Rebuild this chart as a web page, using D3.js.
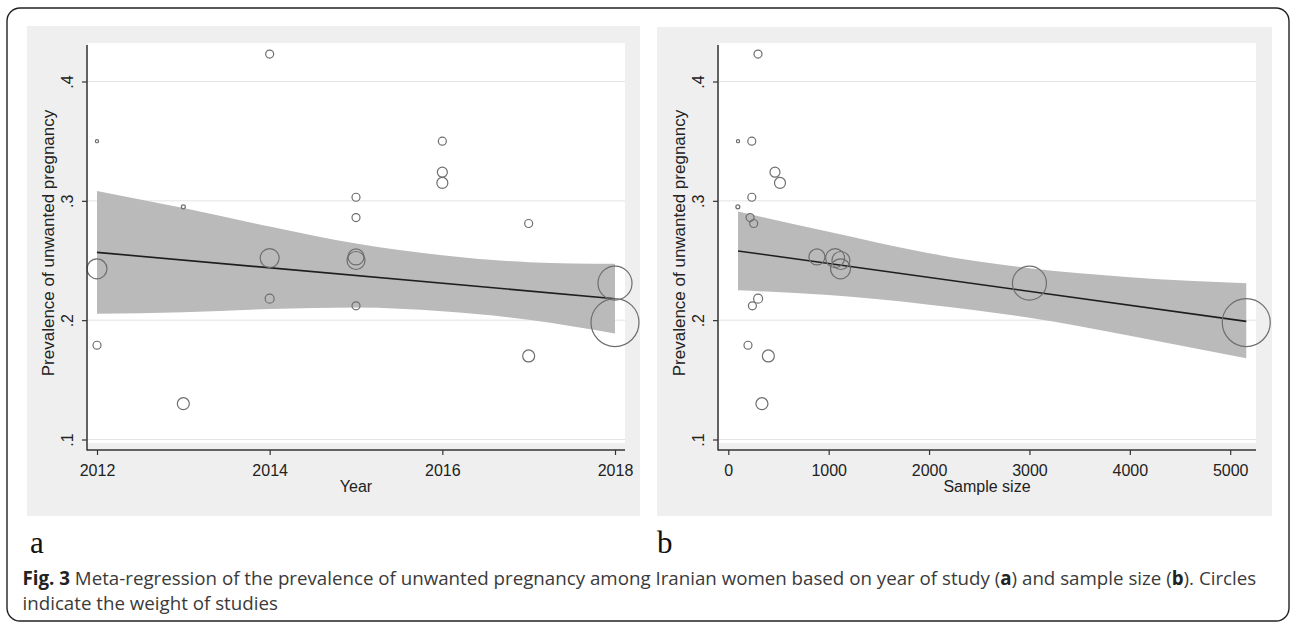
<!DOCTYPE html>
<html>
<head>
<meta charset="utf-8">
<script src="https://cdn.jsdelivr.net/npm/d3@7"></script>
<style>
  html, body { margin: 0; padding: 0; background: #fff; }
  svg { display: block; }
</style>
</head>
<body>
<svg id="fig" width="1290" height="624"></svg>
<script>
// ---- Study-level data (one entry per study) ----
const studyYear  = [2012, 2012, 2012, 2013, 2013, 2014, 2014, 2014, 2015, 2015,
                    2015, 2015, 2015, 2016, 2016, 2016, 2017, 2017, 2018, 2018];
const sampleSize = [97, 1118, 196, 95, 335, 296, 1064, 297, 234, 217,
                    883, 1122, 240, 234, 465, 515, 253, 399, 3000, 5160];
const prevalence = [0.350, 0.243, 0.179, 0.295, 0.130, 0.423, 0.252, 0.218, 0.303, 0.286,
                    0.253, 0.250, 0.212, 0.350, 0.324, 0.315, 0.281, 0.170, 0.231, 0.198];
const weightPct  = [0.15, 6.82, 1.09, 0.27, 2.46, 1.09, 6.16, 1.38, 1.09, 1.09,
                    4.37, 5.53, 1.09, 1.09, 1.71, 2.06, 1.09, 2.46, 19.71, 39.29];

// ---- Fitted meta-regression and 95% CI, panel a (year) ----
const fitYearX     = [2012, 2018];
const fitYearY     = [0.2568, 0.2180];
const bandYearX    = [2012, 2013, 2014, 2015, 2016, 2017, 2018];
const bandYearUp   = [0.3083, 0.2940, 0.2785, 0.2642, 0.2544, 0.2486, 0.2472];
const bandYearLo   = [0.2053, 0.2066, 0.2093, 0.2106, 0.2074, 0.2004, 0.1888];

// ---- Fitted meta-regression and 95% CI, panel b (sample size) ----
const fitSizeX     = [97, 5160];
const fitSizeY     = [0.258, 0.199];
const bandSizeX    = [97, 1000, 2000, 3000, 4000, 5160];
const bandSizeUp   = [0.291, 0.274, 0.256, 0.2435, 0.236, 0.231];
const bandSizeLo   = [0.225, 0.221, 0.213, 0.202, 0.187, 0.168];

// ---- Axis ticks and labels ----
const yTickValues   = [0.1, 0.2, 0.3, 0.4];
const yearTicks     = [2012, 2014, 2016, 2018];
const sizeTicks     = [0, 1000, 2000, 3000, 4000, 5000];
const yAxisTitle    = "Prevalence of unwanted pregnancy";
const yearAxisTitle = "Year";
const sizeAxisTitle = "Sample size";

const svg = d3.select("#fig");
const AXIS_FONT = "'Liberation Sans', Arial, Helvetica, sans-serif";

const studies = studyYear.map((yr, i) => ({
  year: yr, n: sampleSize[i], p: prevalence[i], w: weightPct[i]
}));

const rScale = d3.scaleSqrt().domain([0, d3.max(weightPct)]).range([0, 24]);
const yScale = d3.scaleLinear().domain([0.1, 0.4]).range([439.5, 81.5]);

// outer rounded frame of the figure
svg.append("rect")
  .attr("x", 7).attr("y", 8).attr("width", 1282).attr("height", 613)
  .attr("rx", 13).attr("ry", 13)
  .attr("fill", "none").attr("stroke", "#222").attr("stroke-width", 1.4);

function drawPanel(cfg) {
  const g = svg.append("g");
  const x = cfg.x;

  // graph background and white plot region
  g.append("rect").attr("x", cfg.bg[0]).attr("y", cfg.bg[1])
    .attr("width", cfg.bg[2] - cfg.bg[0]).attr("height", cfg.bg[3] - cfg.bg[1])
    .attr("fill", "#efefef");
  g.append("rect").attr("x", cfg.left + 1).attr("y", cfg.top)
    .attr("width", cfg.right - cfg.left - 1).attr("height", cfg.whiteBottom - cfg.top)
    .attr("fill", "#fff");

  // horizontal grid lines
  g.append("g").selectAll("line").data(yTickValues).join("line")
    .attr("x1", cfg.left + 1).attr("x2", cfg.right)
    .attr("y1", d => yScale(d)).attr("y2", d => yScale(d))
    .attr("stroke", "#e4e4e4").attr("stroke-width", 1);

  // confidence band
  const bandData = cfg.bandX.map((v, i) => ({ x: v, up: cfg.bandUp[i], lo: cfg.bandLo[i] }));
  g.append("path").datum(bandData)
    .attr("d", d3.area().curve(d3.curveMonotoneX)
      .x(d => x(d.x)).y0(d => yScale(d.lo)).y1(d => yScale(d.up)))
    .attr("fill", "#bababa");

  // fitted line
  const fitData = cfg.fitX.map((v, i) => ({ x: v, y: cfg.fitY[i] }));
  g.append("path").datum(fitData)
    .attr("d", d3.line().x(d => x(d.x)).y(d => yScale(d.y)))
    .attr("fill", "none").attr("stroke", "#1e1e1e").attr("stroke-width", 1.6);

  // study markers, sized by weight
  g.append("g").selectAll("circle").data(studies).join("circle")
    .attr("cx", d => x(cfg.xValue(d)))
    .attr("cy", d => yScale(d.p))
    .attr("r", d => Math.max(1.6, rScale(d.w)))
    .attr("fill", "none").attr("stroke", "#6e6e6e").attr("stroke-width", 1.2);

  // y axis
  const yAx = g.append("g").attr("transform", `translate(${cfg.left},0)`)
    .call(d3.axisLeft(yScale).tickValues(yTickValues).tickSize(5)
      .tickFormat(d => "." + Math.round(d * 10)));
  yAx.select(".domain").remove();
  yAx.selectAll(".tick line").attr("stroke", "#333").attr("stroke-width", 1.2);
  yAx.selectAll(".tick text")
    .attr("x", 0).attr("dy", 0).attr("text-anchor", "middle")
    .attr("transform", "translate(-14,0) rotate(-90)")
    .attr("font-family", AXIS_FONT).attr("font-size", 16).attr("fill", "#222");

  // x axis
  const xAx = g.append("g").attr("transform", `translate(0,${cfg.axisY})`)
    .call(d3.axisBottom(x).tickValues(cfg.ticks).tickSize(5).tickPadding(10)
      .tickFormat(d3.format("d")));
  xAx.select(".domain").remove();
  xAx.selectAll(".tick line").attr("stroke", "#333").attr("stroke-width", 1.2);
  xAx.selectAll(".tick text")
    .attr("font-family", AXIS_FONT).attr("font-size", 16).attr("fill", "#222");

  // axis lines
  g.append("line").attr("x1", cfg.left).attr("x2", cfg.left)
    .attr("y1", 45).attr("y2", cfg.axisY + 0.6)
    .attr("stroke", "#333").attr("stroke-width", 1.5);
  g.append("line").attr("x1", cfg.left).attr("x2", cfg.right)
    .attr("y1", cfg.axisY).attr("y2", cfg.axisY)
    .attr("stroke", "#333").attr("stroke-width", 1.5);

  // axis titles
  g.append("text")
    .attr("transform", `translate(${cfg.left - 33},${(cfg.top + cfg.whiteBottom) / 2}) rotate(-90)`)
    .attr("text-anchor", "middle")
    .attr("font-family", AXIS_FONT).attr("font-size", 17).attr("fill", "#222")
    .text(yAxisTitle);
  g.append("text")
    .attr("x", (cfg.left + cfg.right) / 2).attr("y", 492)
    .attr("text-anchor", "middle")
    .attr("font-family", AXIS_FONT).attr("font-size", 16).attr("fill", "#222")
    .text(cfg.xTitle);

  // panel letter
  svg.append("text")
    .attr("x", cfg.letterX).attr("y", 553)
    .attr("font-family", "'Liberation Serif', 'Times New Roman', serif")
    .attr("font-size", 31).attr("fill", "#111")
    .text(cfg.letter);
}

drawPanel({
  bg: [27, 26, 640, 516],
  left: 87, right: 625, top: 43, whiteBottom: 443, axisY: 450,
  x: d3.scaleLinear().domain([2012, 2018]).range([97, 615]),
  xValue: d => d.year,
  ticks: yearTicks, xTitle: yearAxisTitle,
  bandX: bandYearX, bandUp: bandYearUp, bandLo: bandYearLo,
  fitX: fitYearX, fitY: fitYearY,
  letter: "a", letterX: 30
});

drawPanel({
  bg: [657, 27, 1272, 516],
  left: 718, right: 1256, top: 43, whiteBottom: 443, axisY: 450,
  x: d3.scaleLinear().domain([0, 5000]).range([728.3, 1230.2]),
  xValue: d => d.n,
  ticks: sizeTicks, xTitle: sizeAxisTitle,
  bandX: bandSizeX, bandUp: bandSizeUp, bandLo: bandSizeLo,
  fitX: fitSizeX, fitY: fitSizeY,
  letter: "b", letterX: 657
});

// figure caption
const CAP_FONT = "'Open Sans', 'Noto Sans', sans-serif";
const cap1 = svg.append("text").attr("x", 22.5).attr("y", 585)
  .attr("font-family", CAP_FONT).attr("font-size", 16).attr("fill", "#3a3a3a");
cap1.append("tspan").attr("font-weight", "bold").attr("fill", "#222").text("Fig. 3");
cap1.append("tspan").text(" Meta-regression of the prevalence of unwanted pregnancy among Iranian women based on year of study (");
cap1.append("tspan").attr("font-weight", "bold").attr("fill", "#222").text("a");
cap1.append("tspan").text(") and sample size (");
cap1.append("tspan").attr("font-weight", "bold").attr("fill", "#222").text("b");
cap1.append("tspan").text("). Circles");
const cap2 = svg.append("text").attr("x", 22.5).attr("y", 610)
  .attr("font-family", CAP_FONT).attr("font-size", 16).attr("fill", "#3a3a3a")
  .text("indicate the weight of studies");

// size caption so the first line runs to the right margin
const capLen = cap1.node().getComputedTextLength();
const capSize = 16 * (1257 - 22.5) / capLen;
cap1.attr("font-size", capSize);
cap2.attr("font-size", capSize);
</script>
</body>
</html>
